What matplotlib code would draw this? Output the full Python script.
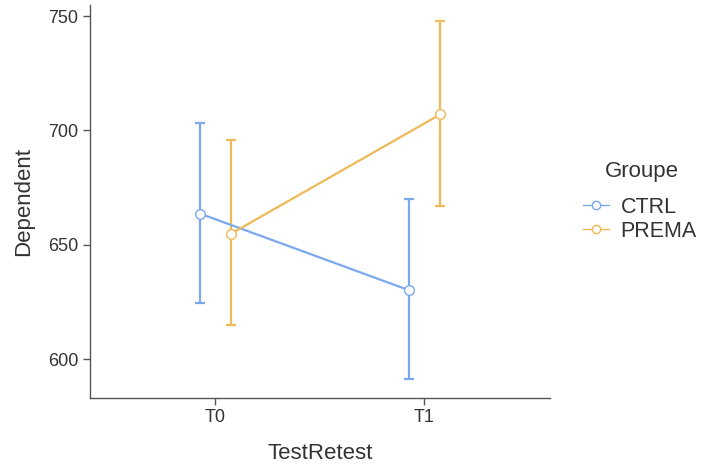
import matplotlib.pyplot as plt
from matplotlib.lines import Line2D
import numpy as np

plt.rcParams['font.family'] = ['Liberation Sans', 'DejaVu Sans']

timepoints = ["T0", "T1"]
groups = ["CTRL", "PREMA"]
colors = ["#7BA9EE", "#EEB957"]

means = {"CTRL": [663.7, 630.2], "PREMA": [654.9, 707.0]}
lower = {"CTRL": [624.6, 591.4], "PREMA": [614.8, 666.8]}
upper = {"CTRL": [703.1, 670.0], "PREMA": [695.8, 747.9]}

fig = plt.figure(figsize=(7.04, 4.70), dpi=100)
ax = fig.add_axes([0.128, 0.154, 0.653, 0.835])

x = np.arange(len(timepoints))
dodge = [-0.075, 0.075]
handles = []
for i, g in enumerate(groups):
    m = np.array(means[g])
    err = np.array([m - np.array(lower[g]), np.array(upper[g]) - m])
    ax.errorbar(x + dodge[i], m, yerr=err, color=colors[i], lw=1.6,
                capsize=3.8, capthick=1.6, fmt='none', zorder=2)
    ax.plot(x + dodge[i], m, color=colors[i], lw=1.6, marker='o',
            markersize=7, markerfacecolor='white', markeredgecolor=colors[i],
            markeredgewidth=1.0, zorder=3)
    handles.append(Line2D([], [], color=colors[i], lw=1.0, marker='o',
                          markersize=6, markerfacecolor='white',
                          markeredgewidth=1.0, label=g))

ax.set_xlim(-0.6, 1.6)
ax.set_ylim(583.2, 754.8)
ax.set_xticks(x)
ax.set_xticklabels(timepoints)
ax.set_yticks([600, 650, 700, 750])

for s in ["top", "right"]:
    ax.spines[s].set_visible(False)
for s in ["left", "bottom"]:
    ax.spines[s].set_color("#555555")
    ax.spines[s].set_linewidth(1.0)
ax.tick_params(axis='both', colors="#555555", labelcolor="#333333",
               labelsize=13, length=5, width=1.0)

ax.set_xlabel("TestRetest", fontsize=16, color="#333333", labelpad=12)
ax.set_ylabel("Dependent", fontsize=16, color="#333333", labelpad=10)

# legend title drawn separately to get the wider gap
fig.text(0.859, 1 - 172 / 470, "Groupe", fontsize=16, color="#333333",
         ha="left", va="center")
leg = fig.legend(handles=handles, loc="upper left",
                 bbox_to_anchor=(0.828, 1 - 197 / 470), frameon=False,
                 fontsize=15.5, handlelength=1.2, handletextpad=0.55,
                 labelspacing=0.12, borderpad=0, borderaxespad=0)
for t in leg.get_texts():
    t.set_color("#333333")

fig.savefig("out.png", dpi=100)
